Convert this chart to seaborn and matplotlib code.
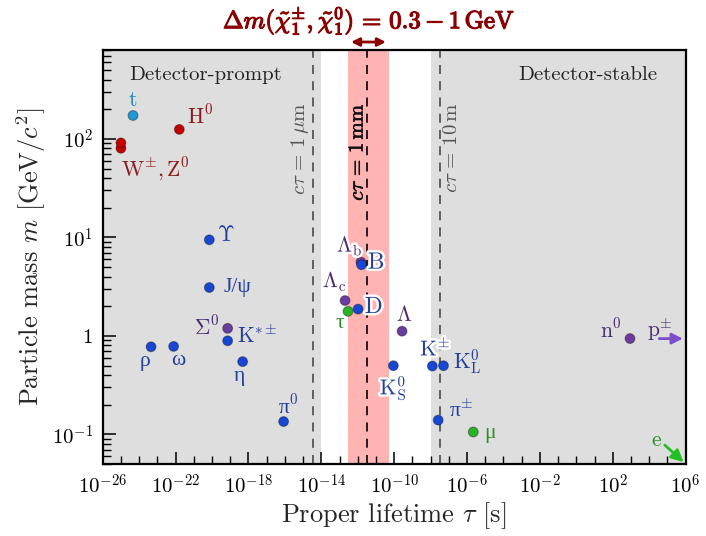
import numpy as np
import pandas as pd
import matplotlib
matplotlib.use("Agg")
import matplotlib.pyplot as plt
import matplotlib.patheffects as pe
import matplotlib.ticker as mticker
import seaborn as sns

# ---------------- data ----------------
names = ["t", "H0", "W", "Z", "Upsilon", "Jpsi", "Sigma0", "Kstar", "rho", "omega",
         "eta", "pi0", "Lambda_b", "B", "Lambda_c", "tau", "D", "Lambda", "K0S",
         "Kpm", "K0L", "pipm", "mu", "n0"]
labels = [r"$\mathrm{t}$", r"$\mathrm{H}^0$", r"$\mathrm{W}^{\pm},\mathrm{Z}^0$", "",
          r"$\Upsilon$", "J/ψ", r"$\Sigma^0$", r"$\mathrm{K}^{*\pm}$",
          "ρ", "ω", "η", r"π$^0$", r"$\Lambda_\mathrm{b}$",
          r"$\mathrm{B}$", r"$\Lambda_\mathrm{c}$", "τ", r"$\mathrm{D}$",
          r"$\Lambda$", r"$\mathrm{K}^0_\mathrm{S}$", r"$\mathrm{K}^{\pm}$",
          r"$\mathrm{K}^0_\mathrm{L}$", r"π$^{\pm}$", "μ", r"$\mathrm{n}^0$"]
lifetime = [4.6e-25, 1.6e-22, 1.0e-25, 1.0e-25, 7.1e-21, 7.1e-21, 7.2e-20, 7.2e-20,
            4.5e-24, 7.8e-23, 4.8e-19, 8.5e-17, 1.5e-12, 1.6e-12, 2.0e-13, 2.9e-13,
            1.04e-12, 2.7e-10, 9.0e-11, 1.24e-8, 5.1e-8, 2.6e-8, 2.2e-6, 880.0]
mass = [173.0, 125.0, 80.4, 91.2, 9.46, 3.097, 1.193, 0.892, 0.775, 0.782,
        0.548, 0.135, 5.62, 5.28, 2.286, 1.777, 1.87, 1.116, 0.498,
        0.494, 0.498, 0.1396, 0.1057, 0.9396]
group = ["top", "boson", "boson", "boson", "meson", "meson", "baryon", "meson", "meson",
         "meson", "meson", "meson", "baryon", "meson", "baryon", "lepton", "meson",
         "baryon", "meson", "meson", "meson", "meson", "lepton", "baryon"]

# stable particles (off-scale lifetime), drawn as arrows
stable_labels = [r"$\mathrm{p}^{\pm}$", r"$\mathrm{e}$"]
stable_mass = [0.938, 0.000511]

# reference lines: c*tau = 1 um, 1 mm, 10 m
ctau_values = [3.34e-15, 3.34e-12, 3.34e-8]
ctau_texts = [r"$c\tau\,=\,1\,\mu\mathrm{m}$", r"$c\tau\,=\,1\,\mathrm{mm}$",
              r"$c\tau\,=\,10\,\mathrm{m}$"]
prompt_edge = 1e-14
stable_edge = 1e-8
band_lo, band_hi = 3e-13, 5e-11

xticks = [1e-26, 1e-22, 1e-18, 1e-14, 1e-10, 1e-6, 1e-2, 1e2, 1e6]
xticklabels = [r"$10^{-26}$", r"$10^{-22}$", r"$10^{-18}$", r"$10^{-14}$",
               r"$10^{-10}$", r"$10^{-6}$", r"$10^{-2}$", r"$10^{2}$", r"$10^{6}$"]
yticks = [0.1, 1, 10, 100]
yticklabels = [r"$10^{-1}$", r"$1$", r"$10^{1}$", r"$10^{2}$"]

# ---------------- styling ----------------
sns.set_style("white")
plt.rcParams["font.family"] = ["cmr10", "DejaVu Serif"]
plt.rcParams["mathtext.fontset"] = "cm"
plt.rcParams["axes.formatter.use_mathtext"] = True

marker_col = {"top": "#1e98d8", "boson": "#c40000", "meson": "#1747d4",
              "baryon": "#6a3d9e", "lepton": "#27b327"}
text_col = {"top": "#1a88c8", "boson": "#8b1a1a", "meson": "#233f9c",
            "baryon": "#4b2d6e", "lepton": "#2a8f2a"}

# label offsets in pixels (dx right, dy down)
offsets = {"t": (0, -15), "H0": (21, -14), "W": (35, 21), "Upsilon": (16, -5),
           "Jpsi": (28, 0), "Sigma0": (-21, -2), "Kstar": (30, -5), "rho": (-6, 15),
           "omega": (5, 14), "eta": (-3, 15), "pi0": (5, -15), "Lambda_b": (-11, -16),
           "B": (15, -2), "Lambda_c": (-10, -19), "tau": (-8, 12), "D": (16, -2),
           "Lambda": (3, -16), "K0S": (0, 22), "Kpm": (3, -18), "K0L": (24, -3),
           "pipm": (23, -9), "mu": (17, 1), "n0": (-19, -9)}
outlined = {"Lambda_b", "B", "Lambda_c", "D", "K0S", "Kpm", "Lambda"}
big = {"B", "D"}
greek_text = {"Jpsi", "rho", "omega", "eta", "pi0", "tau", "pipm", "mu"}

df = pd.DataFrame({"name": names, "lifetime": lifetime, "mass": mass, "group": group})

fig = plt.figure(figsize=(7.06, 5.36), dpi=100)
ax = fig.add_axes([0.1455, 0.1343, 0.8257, 0.7724])
ax.set_xscale("log")
ax.set_yscale("log")
ax.set_xlim(1e-26, 1e6)
ax.set_ylim(0.05, 800)

ax.axvspan(1e-26, prompt_edge, color="#dedede", zorder=0, lw=0)
ax.axvspan(stable_edge, 1e6, color="#dedede", zorder=0, lw=0)
ax.axvspan(band_lo, band_hi, color="#ffb3b3", zorder=0.5, lw=0)

line_cols = ["#555555", "#111111", "#555555"]
for v, c in zip(ctau_values, line_cols):
    ax.axvline(v, color=c, ls=(0, (5, 4)), lw=1.3, zorder=1)

# vertical ctau texts
xt = ax.get_xaxis_transform()
ax.annotate(ctau_texts[0], xy=(ctau_values[0], 1 - (149 - 50) / 414), xycoords=xt,
            xytext=(-9.4, 0), textcoords="offset points", rotation=90,
            ha="center", va="center", fontsize=15, color="#555555")
ax.annotate(ctau_texts[1], xy=(ctau_values[1], 1 - (152 - 50) / 414), xycoords=xt,
            xytext=(-7, 0), textcoords="offset points", rotation=90,
            ha="center", va="center", fontsize=15, color="#111111",
            path_effects=[pe.withStroke(linewidth=0.45, foreground="#111111")])
ax.annotate(ctau_texts[2], xy=(ctau_values[2], 1 - (148 - 50) / 414), xycoords=xt,
            xytext=(8.6, 0), textcoords="offset points", rotation=90,
            ha="center", va="center", fontsize=15, color="#555555")

ax.text(0.177, 0.94, "Detector-prompt", transform=ax.transAxes, ha="center", va="center",
        fontsize=15, color="#222222")
ax.text(0.833, 0.94, "Detector-stable", transform=ax.transAxes, ha="center", va="center",
        fontsize=15, color="#222222")

sns.scatterplot(data=df, x="lifetime", y="mass", hue="group", palette=marker_col,
                s=50, edgecolor=(0, 0, 0, 0.35), linewidth=0.8, legend=False, ax=ax, zorder=5)

px = 0.72
for n, lab, x, y, g in zip(names, labels, lifetime, mass, group):
    if not lab:
        continue
    dx, dy = offsets[n]
    effects = [pe.withStroke(linewidth=3.5, foreground="white")] if n in outlined else None
    fam = ["Liberation Serif"] if n in greek_text else None
    ax.annotate(lab, xy=(x, y), xytext=(dx * px, -dy * px), textcoords="offset points",
                ha="center", va="center", fontsize=17 if n in big else 15.5,
                family=fam, color=text_col[g], path_effects=effects, zorder=6)

# stable particles: arrows
ax.annotate("", xy=(1, stable_mass[0]), xycoords=("axes fraction", "data"),
            xytext=(-21, 0), textcoords="offset points",
            arrowprops=dict(arrowstyle="-|>", color="#7b4fc9", lw=2, mutation_scale=16),
            annotation_clip=False, zorder=6)
ax.annotate(stable_labels[0], xy=(1, stable_mass[0]), xycoords=("axes fraction", "data"),
            xytext=(-26 * px, 9 * px), textcoords="offset points", ha="center", va="center",
            fontsize=15.5, color=text_col["baryon"])
ax.annotate("", xy=(1, 0), xycoords="axes fraction", xytext=(-16.5, 15),
            textcoords="offset points",
            arrowprops=dict(arrowstyle="-|>", color="#22c022", lw=2, mutation_scale=18),
            annotation_clip=False, zorder=6)
ax.annotate(stable_labels[1], xy=(1, 0), xycoords="axes fraction",
            xytext=(-29 * px, 24 * px), textcoords="offset points", ha="center", va="center",
            fontsize=15.5, color="#2a8f2a")

# mass-splitting band annotation
ax.annotate("", xy=(band_hi, 1.0193), xycoords=xt,
            xytext=(band_lo, 1.0193), textcoords=xt,
            arrowprops=dict(arrowstyle="<|-|>", color="#8b0000", lw=2, mutation_scale=12),
            annotation_clip=False)
fig.text(369 / 706, 1 - 21 / 536,
         r"$\Delta m(\tilde{\chi}_1^{\pm},\tilde{\chi}_1^{0})\,=\,0.3-1\,\mathrm{GeV}$",
         ha="center", va="center", fontsize=17.8, color="#8b0000",
         path_effects=[pe.withStroke(linewidth=0.9, foreground="#8b0000")])

# axes formatting
ax.xaxis.set_major_locator(mticker.FixedLocator(xticks))
ax.xaxis.set_major_formatter(mticker.FixedFormatter(xticklabels))
ax.xaxis.set_minor_locator(mticker.LogLocator(base=10, subs=[1.0], numticks=100))
ax.xaxis.set_minor_formatter(mticker.NullFormatter())
ax.yaxis.set_major_locator(mticker.FixedLocator(yticks))
ax.yaxis.set_major_formatter(mticker.FixedFormatter(yticklabels))
ax.yaxis.set_minor_locator(mticker.LogLocator(base=10, subs=np.arange(2, 10), numticks=100))
ax.yaxis.set_minor_formatter(mticker.NullFormatter())
ax.tick_params(which="both", direction="in", bottom=True, left=True, top=False,
               right=False, colors="black", labelsize=15)
ax.tick_params(which="major", length=9, width=1.1, pad=7)
ax.tick_params(which="minor", length=5.5, width=1.0)
for s in ax.spines.values():
    s.set_linewidth(1.6)
    s.set_color("black")
    s.set_zorder(10)

ax.set_xlabel(r"Proper lifetime $\tau$ [s]", fontsize=19, labelpad=2)
ax.set_ylabel(r"Particle mass $m$ [GeV/$c^2$]", fontsize=19, labelpad=3)

fig.savefig("out.png", dpi=100)
